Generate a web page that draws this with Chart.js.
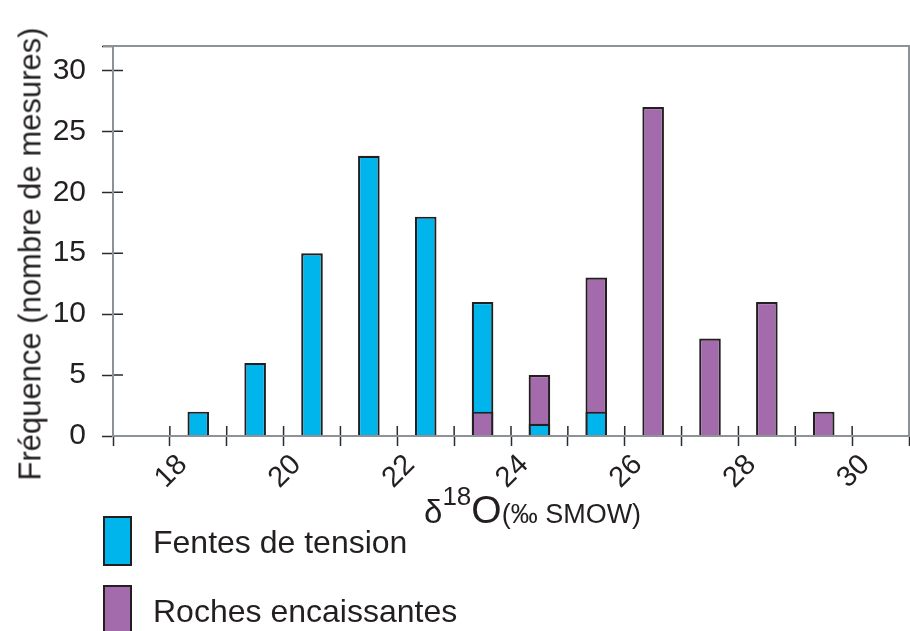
<!DOCTYPE html>
<html>
<head>
<meta charset="utf-8">
<script src="https://cdn.jsdelivr.net/npm/chart.js@4.4.1/dist/chart.umd.min.js"></script>
<style>
  body { margin: 0; background: #fff; }
  #wrap { position: relative; width: 910px; height: 631px; font-family: 'Liberation Sans', Arial, sans-serif; color: #231f20; }
  #wrap canvas { position: absolute; left: 0; top: 0; }
  .y-title { position: absolute; left: 30px; top: 254px; font-size: 31px; line-height: 31px; white-space: nowrap;
             transform: translate(-50%, -50%) rotate(-90deg); }
  .x-title { position: absolute; left: 424px; top: 490px; font-size: 39px; line-height: 39px; white-space: nowrap; }
  .x-title .d { font-size: 33px; }
  .x-title sup { font-size: 26px; vertical-align: 18px; line-height: 0; }
  .x-title .u { font-size: 27px; }
  .key { position: absolute; left: 103px; width: 25px; height: 46px; border: 2px solid #231f20; }
  .key-label { position: absolute; left: 153px; font-size: 32px; line-height: 32px; white-space: nowrap; }
</style>
</head>
<body>
<div id="wrap">
  <canvas id="chart"></canvas>
  <div class="y-title">Fréquence (nombre de mesures)</div>
  <div class="x-title"><span class="d">δ</span><sup>18</sup>O<span class="u">(‰ SMOW)</span></div>
  <div id="legend"></div>
</div>
<script>
// histogram bins (bin centres, ‰) and counts for each population
const fentesBins = [18.5, 19.5, 20.5, 21.5, 22.5, 23.5, 24.5, 25.5];
const fentesCounts = [2, 6, 15, 23, 18, 11, 1, 2];
const rochesBins = [23.5, 24.5, 25.5, 26.5, 27.5, 28.5, 29.5];
const rochesCounts = [2, 5, 13, 27, 8, 11, 2];

// axis ticks
const xTicks = [17, 18, 19, 20, 21, 22, 23, 24, 25, 26, 27, 28, 29, 30, 31];
const xLabels = [18, 20, 22, 24, 26, 28, 30];
const yTicks = [0, 5, 10, 15, 20, 25, 30, 32];
const yLabels = [0, 5, 10, 15, 20, 25, 30];

const BLUE = '#00b4ec';
const PURPLE = '#a36bab';
const INK = '#231f20';
const AXIS = '#8d9297';

Chart.defaults.font.family = "'Liberation Sans', Arial, sans-serif";
Chart.defaults.color = INK;

// draw bars tallest first so short bars stay visible where bins overlap
const tallestFirst = {
    id: 'tallestFirst',
    beforeDatasetsDraw(chart) {
        let bars = [];
        chart.data.datasets.forEach((ds, i) => {
            chart.getDatasetMeta(i).data.forEach((el, j) => bars.push({ el: el, v: ds.data[j].y }));
        });
        bars.sort((a, b) => b.v - a.v);
        bars.forEach(b => b.el.draw(chart.ctx));
        return false;
    }
};

// frame lines and tick marks pointing into the plot
const frame = {
    id: 'frame',
    afterDraw(chart) {
        const { ctx, chartArea: a, scales: { x, y } } = chart;
        ctx.save();
        ctx.strokeStyle = '#2b2b2b';
        ctx.lineWidth = 1.5;
        ctx.beginPath();
        y.ticks.forEach(t => {
            if (t.value >= 32) return;
            let py = y.getPixelForValue(t.value);
            ctx.moveTo(a.left, py);
            ctx.lineTo(a.left + 10, py);
        });
        x.ticks.forEach(t => {
            let px = x.getPixelForValue(t.value);
            ctx.moveTo(px, a.bottom);
            ctx.lineTo(px, a.bottom - 10);
        });
        ctx.stroke();

        ctx.strokeStyle = AXIS;
        ctx.lineWidth = 2;
        ctx.beginPath();
        ctx.moveTo(a.left - 10, a.top);
        ctx.lineTo(a.right, a.top);
        ctx.lineTo(a.right, a.bottom);
        ctx.lineTo(a.left, a.bottom);
        ctx.lineTo(a.left, a.top);
        ctx.stroke();
        ctx.restore();
    }
};

const chart = new Chart(document.getElementById('chart'), {
    type: 'bar',
    data: {
        datasets: [
            {
                label: 'Fentes de tension',
                data: fentesBins.map((b, i) => ({ x: b, y: fentesCounts[i] })),
                backgroundColor: BLUE,
                borderColor: INK,
                borderWidth: 2.2,
            },
            {
                label: 'Roches encaissantes',
                data: rochesBins.map((b, i) => ({ x: b, y: rochesCounts[i] })),
                backgroundColor: PURPLE,
                borderColor: INK,
                borderWidth: 2.2,
            },
        ],
    },
    options: {
        responsive: true,
        maintainAspectRatio: false,
        animation: false,
        grouped: false,
        barPercentage: 0.38,
        categoryPercentage: 1,
        layout: { padding: { top: 46, right: 1, left: 0, bottom: 0 } },
        plugins: {
            legend: { display: false },
            tooltip: { enabled: false },
        },
        scales: {
            x: {
                type: 'linear',
                min: 17,
                max: 31,
                offset: false,
                afterBuildTicks: scale => { scale.ticks = xTicks.map(v => ({ value: v })); },
                afterFit: scale => {
                    scale.height = 195;
                    scale.paddingLeft = 0;
                    scale.paddingRight = 0;
                },
                grid: { offset: false, drawOnChartArea: false, tickLength: 10, tickColor: '#2b2b2b', tickWidth: 1.5 },
                border: { color: AXIS, width: 2 },
                ticks: {
                    autoSkip: false,
                    minRotation: 45,
                    maxRotation: 45,
                    labelOffset: 13,
                    padding: 2,
                    font: { size: 29 },
                    callback: v => xLabels.includes(v) ? String(v) : '',
                },
            },
            y: {
                min: 0,
                max: 32,
                afterBuildTicks: scale => { scale.ticks = yTicks.map(v => ({ value: v })); },
                afterFit: scale => { scale.width = 113; },
                grid: { drawOnChartArea: false, tickLength: 11, tickColor: '#2b2b2b', tickWidth: 1.5 },
                border: { color: AXIS, width: 2 },
                ticks: {
                    padding: 16,
                    font: { size: 30 },
                    callback: v => yLabels.includes(v) ? String(v) : '',
                },
            },
        },
    },
    plugins: [tallestFirst, frame],
});

// legend built from the datasets, stacked below the axis title
const legend = document.getElementById('legend');
chart.data.datasets.forEach((ds, i) => {
    let top = 516 + i * 69;
    let key = document.createElement('div');
    key.className = 'key';
    key.style.top = top + 'px';
    key.style.background = ds.backgroundColor;
    let label = document.createElement('div');
    label.className = 'key-label';
    label.style.top = (top + 10) + 'px';
    label.textContent = ds.label;
    legend.appendChild(key);
    legend.appendChild(label);
});
</script>
</body>
</html>
